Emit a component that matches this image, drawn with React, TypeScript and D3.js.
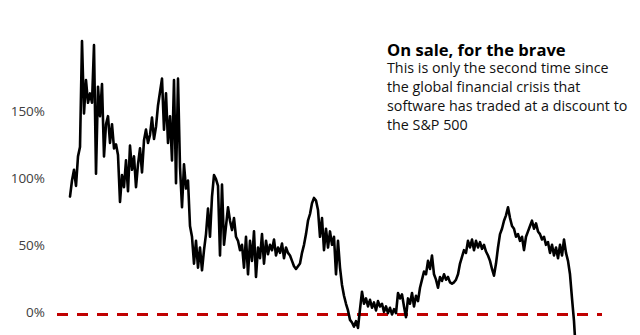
import React from "react";
import * as d3 from "d3";

// Software forward P/E premium vs S&P 500 (%), sampled evenly over time
const premium: number[] = [
  88, 100, 108, 96, 118, 125, 204, 150, 175, 158,
  165, 158, 201, 105, 170, 148, 172, 118, 142, 148,
  128, 142, 124, 127, 119, 84, 104, 95, 115, 92,
  126, 108, 118, 95, 112, 124, 106, 130, 138, 128,
  134, 147, 131, 140, 156, 166, 176, 138, 165, 128,
  148, 115, 175, 98, 176, 110, 80, 112, 94, 100,
  66, 58, 38, 55, 35, 50, 33, 48, 60, 79,
  58, 88, 104, 101, 96, 44, 97, 52, 66, 80,
  70, 63, 72, 58, 55, 48, 52, 35, 58, 30,
  55, 40, 62, 28, 50, 42, 60, 38, 55, 45,
  52, 48, 56, 44, 50, 46, 53, 42, 50, 46,
  44, 40, 36, 34, 36, 38, 46, 52, 60, 70,
  75, 83, 87, 85, 78, 58, 72, 48, 64, 50,
  62, 52, 58, 30, 55, 35, 22, 14, 8, 3,
  -4, -6, -9, -5, -10, 4, 17, 8, 12, 6,
  11, 5, 9, 3, 10, 6, 8, 2, 6, 1,
  5, 0, 4, 1, 16, 12, 15, 6, -2, 12,
  8, 16, 6, 14, 10, 20, 26, 32, 30, 40,
  34, 44, 30, 26, 20, 28, 25, 30, 26, 28,
  24, 23, 24, 26, 30, 38, 43, 48, 46, 55,
  50, 56, 48, 55, 50, 54, 49, 52, 47, 44,
  40, 34, 29, 38, 50, 60, 64, 70, 74, 80,
  72, 66, 64, 58, 60, 55, 58, 48, 58, 62,
  66, 70, 64, 68, 62, 60, 56, 58, 52, 54,
  46, 52, 44, 50, 42, 52, 44, 56, 46, 40,
  30, 12, -5, -30,
];

const yTicks: number[] = [0, 50, 100, 150];
const tickLabel = (v: number) => `${v}%`;

const headerText =
  "Software forward P/E premium over the S&P 500 (%, rolling average, by price/earnings)";
const noteTitle = "On sale, for the brave";
const noteLines: string[] = [
  "This is only the second time since",
  "the global financial crisis that",
  "software has traded at a discount to",
  "the S&P 500",
];

const W = 640;
const H = 335;
const FONT = "'Open Sans', Roboto, Arial, sans-serif";

export default function App() {
  const x = d3
    .scaleLinear()
    .domain([0, premium.length - 1])
    .range([70, 576]);
  const y = d3.scaleLinear().domain([0, 150]).range([314.5, 113.5]);

  const line = d3
    .line<number>()
    .x((_, i) => x(i))
    .y((d) => y(d))
    .curve(d3.curveLinear);

  return (
    <svg
      width={W}
      height={H}
      style={{ position: "absolute", left: 0, top: 0, background: "#fff" }}
      fontFamily={FONT}
    >
      <rect width={W} height={H} fill="#fff" />
      <text x={6} y={-4} fontSize={13} fill="#b0b0b0">
        {headerText}
      </text>

      {yTicks.map((t) => (
        <text
          key={t}
          x={45}
          y={y(t) - 1}
          textAnchor="end"
          dominantBaseline="middle"
          fontSize={13.5}
          fill="#404040"
        >
          {tickLabel(t)}
        </text>
      ))}

      <line
        x1={57}
        x2={602}
        y1={y(0)}
        y2={y(0)}
        stroke="#c00000"
        strokeWidth={3}
        strokeDasharray="11,9"
      />

      <path
        d={line(premium) ?? ""}
        fill="none"
        stroke="#000"
        strokeWidth={2.6}
        strokeLinejoin="round"
        strokeLinecap="round"
      />

      <text x={387} y={55.5} fontSize={16.6} fontWeight={700} fill="#000">
        {noteTitle}
      </text>
      {noteLines.map((l, i) => (
        <text key={i} x={387} y={72.5 + i * 19.3} fontSize={14.3} fill="#111">
          {l}
        </text>
      ))}
    </svg>
  );
}
